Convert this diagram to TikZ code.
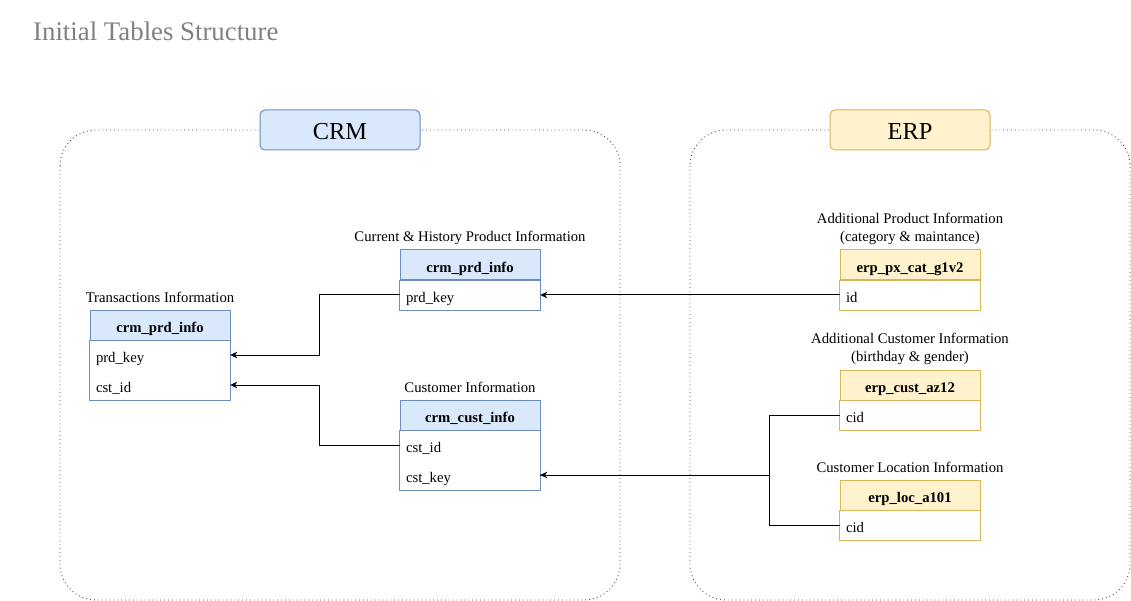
\documentclass[tikz,border=0pt]{standalone}
\usepackage{fontspec}
\setmainfont{Liberation Serif}
\usetikzlibrary{arrows.meta}
\definecolor{crmfill}{HTML}{DAE8FC}
\definecolor{crmline}{HTML}{6C8EBF}
\definecolor{erpfill}{HTML}{FFF2CC}
\definecolor{erpline}{HTML}{D6B656}
\definecolor{titlegray}{HTML}{808080}
\definecolor{groupline}{HTML}{4D4D4D}

\begin{document}
\begin{tikzpicture}[x=1pt,y=-1pt,
  every node/.style={font=\fontsize{14.7}{18}\selectfont, inner sep=0pt},
  group/.style={draw=groupline, line width=0.9pt, dash pattern=on 0.9pt off 3pt, rounded corners=36pt},
  grouplabel/.style={draw=#1line, fill=#1fill, line width=1pt, rounded corners=5pt,
    minimum width=160pt, minimum height=40pt, text height=18.6pt, text depth=0pt,
    font=\fontsize{24.4}{28}\selectfont},
  hdr/.style={draw=#1line, fill=#1fill, line width=1pt, minimum width=140pt, minimum height=30pt,
    text height=15.4pt, text depth=0pt, font=\fontsize{14.7}{18}\selectfont\bfseries},
  fieldrow/.style={minimum height=30pt, text width=128pt, inner xsep=6pt, inner ysep=0pt, align=left,
    text height=15.4pt, text depth=0pt},
  frame/.style={draw=#1line, line width=1pt},
  caption/.style={anchor=base, align=center},
  link/.style={line width=1pt, -{Stealth[length=7pt,width=6.5pt,inset=2pt]}},
  joint/.style={line width=1pt}
]
\useasboundingbox (0,0) rectangle (1131,601);

% page title
\node[anchor=base west, text=titlegray, font=\fontsize{26.8}{30}\selectfont] (title) at (33,41) {Initial Tables Structure};

% source system groups
\draw[group] (60,130) rectangle (620,600);
\draw[group] (690,130) rectangle (1130,600);
\node[grouplabel=crm] (crm) at (340,130) {CRM};
\node[grouplabel=erp] (erp) at (910,130) {ERP};

% CRM: transactions
\node[caption] (transcap) at (160,302) {Transactions Information};
\node[hdr=crm] (transh) at (160,325) {crm\_prd\_info};
\node[fieldrow] (transr1) at (160,355) {prd\_key};
\node[fieldrow] (transr2) at (160,385) {cst\_id};
\draw[frame=crm] (transh.south west) rectangle (transr2.south east);

% CRM: product information
\node[caption] (cprdcap) at (470,242) {Current \& History Product Information};
\node[hdr=crm] (cprdh) at (470,265) {crm\_prd\_info};
\node[fieldrow] (cprdr1) at (470,295) {prd\_key};
\draw[frame=crm] (cprdh.south west) rectangle (cprdr1.south east);

% CRM: customer information
\node[caption] (ccustcap) at (470,392) {Customer Information};
\node[hdr=crm] (ccusth) at (470,415) {crm\_cust\_info};
\node[fieldrow] (ccustr1) at (470,445) {cst\_id};
\node[fieldrow] (ccustr2) at (470,475) {cst\_key};
\draw[frame=crm] (ccusth.south west) rectangle (ccustr2.south east);

% ERP: product categories (two-line caption, base = last line)
\node[caption] (epxcap) at (910,241.5) {Additional Product Information\\(category \& maintance)};
\node[hdr=erp] (epxh) at (910,265) {erp\_px\_cat\_g1v2};
\node[fieldrow] (epxr1) at (910,295) {id};
\draw[frame=erp] (epxh.south west) rectangle (epxr1.south east);

% ERP: customer details
\node[caption] (ecustcap) at (910,361.5) {Additional Customer Information\\(birthday \& gender)};
\node[hdr=erp] (ecusth) at (910,385) {erp\_cust\_az12};
\node[fieldrow] (ecustr1) at (910,415) {cid};
\draw[frame=erp] (ecusth.south west) rectangle (ecustr1.south east);

% ERP: customer location
\node[caption] (eloccap) at (910,472) {Customer Location Information};
\node[hdr=erp] (eloch) at (910,495) {erp\_loc\_a101};
\node[fieldrow] (elocr1) at (910,525) {cid};
\draw[frame=erp] (eloch.south west) rectangle (elocr1.south east);

% relations
\draw[link] (cprdr1.west) -- ++(-80,0) |- (transr1.east);
\draw[link] (ccustr1.west) -- ++(-80,0) |- (transr2.east);
\draw[link] (epxr1.west) -- (cprdr1.east);
\draw[link] (ecustr1.west) -- ++(-70,0) |- (ccustr2.east);
\draw[joint] (elocr1.west) -- ++(-70,0) |- (ccustr2.east);
\end{tikzpicture}
\end{document}
